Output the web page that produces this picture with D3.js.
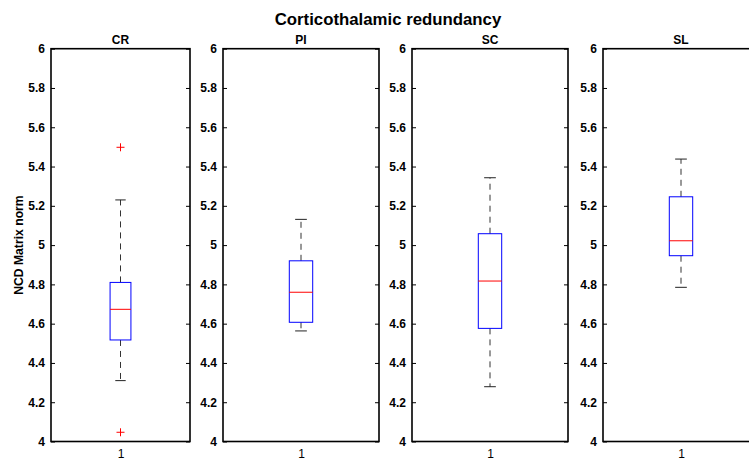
<!DOCTYPE html>
<html>
<head>
<meta charset="utf-8">
<script src="https://cdn.jsdelivr.net/npm/d3@7"></script>
<style>
  body { margin: 0; background: #fff; }
  svg { display: block; font-family: "Liberation Sans", Arial, sans-serif; }
</style>
</head>
<body>
<svg id="chart" width="749" height="463"></svg>
<script>
// ---- data ----
const groups = ["CR", "PI", "SC", "SL"];
const whiskerLow  = [4.31, 4.563, 4.279, 4.785];
const q1          = [4.517, 4.607, 4.576, 4.946];
const median      = [4.673, 4.76, 4.817, 5.022];
const q3          = [4.81, 4.92, 5.058, 5.246];
const whiskerHigh = [5.23, 5.131, 5.343, 5.438];
const outliers    = [[5.498, 4.047], [], [], []];
const yTicks = [4, 4.2, 4.4, 4.6, 4.8, 5, 5.2, 5.4, 5.6, 5.8, 6];
const xTickLabels = ["1"];
const chartTitle = "Corticothalamic redundancy";
const yLabel = "NCD Matrix norm";

// ---- layout ----
const svg = d3.select("#chart");
const panels = [
  {x0: 51, x1: 190},
  {x0: 223, x1: 379},
  {x0: 412, x1: 568},
  {x0: 603, x1: 759}
];
const plotTop = 48.7, plotBottom = 441.5;
const y = d3.scaleLinear().domain([4, 6]).range([plotBottom, plotTop]);

svg.append("text")
  .attr("x", 388).attr("y", 25)
  .attr("text-anchor", "middle")
  .attr("font-size", 16.8).attr("font-weight", "bold")
  .text(chartTitle);

svg.append("text")
  .attr("transform", `translate(22.5,${(plotTop + plotBottom) / 2}) rotate(-90)`)
  .attr("text-anchor", "middle")
  .attr("font-size", 12.2).attr("font-weight", "bold")
  .text(yLabel);

groups.forEach((g, i) => {
  const p = panels[i];
  const x = d3.scaleLinear().domain([0.5, 1.5]).range([p.x0, p.x1]);
  const gp = svg.append("g");
  const w = (p.x1 - p.x0);
  const bw = w * 0.15;
  const cx = x(1);

  // axes
  const left = d3.axisLeft(y).tickValues(yTicks).tickFormat(d3.format("~g"))
    .tickSizeInner(-4).tickSizeOuter(0).tickPadding(6);
  const ga = gp.append("g").attr("transform", `translate(${p.x0},0)`).call(left);
  ga.select(".domain").remove();
  ga.selectAll("line").attr("stroke", "#000").attr("stroke-width", 1);
  ga.selectAll("text").attr("font-size", 12).attr("font-weight", "bold")
    .attr("fill", "#000").attr("font-family", "Liberation Sans, Arial, sans-serif");

  const right = d3.axisRight(y).tickValues(yTicks).tickFormat("")
    .tickSizeInner(-4).tickSizeOuter(0);
  const gr = gp.append("g").attr("transform", `translate(${p.x1},0)`).call(right);
  gr.select(".domain").remove();
  gr.selectAll("line").attr("stroke", "#000");

  const bottomAx = d3.axisBottom(x).tickValues([1]).tickFormat((d, k) => xTickLabels[k])
    .tickSize(0).tickPadding(8);
  const gb = gp.append("g").attr("transform", `translate(0,${plotBottom})`).call(bottomAx);
  gb.select(".domain").remove();
  gb.selectAll("text").attr("font-size", 12).attr("fill", "#000")
    .attr("font-family", "Liberation Sans, Arial, sans-serif");

  // frame
  gp.append("rect")
    .attr("x", p.x0).attr("y", plotTop)
    .attr("width", p.x1 - p.x0).attr("height", plotBottom - plotTop)
    .attr("fill", "none").attr("stroke", "#000").attr("stroke-width", 1.6);

  // subplot title
  gp.append("text")
    .attr("x", cx).attr("y", plotTop - 5)
    .attr("text-anchor", "middle")
    .attr("font-size", 12).attr("font-weight", "bold")
    .text(g);

  // whiskers
  const dash = "6,5";
  gp.append("line").attr("x1", cx).attr("x2", cx)
    .attr("y1", y(q3[i])).attr("y2", y(whiskerHigh[i]))
    .attr("stroke", "#333").attr("stroke-dasharray", dash).attr("stroke-width", 1);
  gp.append("line").attr("x1", cx).attr("x2", cx)
    .attr("y1", y(q1[i])).attr("y2", y(whiskerLow[i]))
    .attr("stroke", "#333").attr("stroke-dasharray", dash).attr("stroke-width", 1);
  [whiskerHigh[i], whiskerLow[i]].forEach(v => {
    gp.append("line").attr("x1", cx - bw / 4).attr("x2", cx + bw / 4)
      .attr("y1", y(v)).attr("y2", y(v))
      .attr("stroke", "#222").attr("stroke-width", 1);
  });

  // box
  gp.append("rect")
    .attr("x", cx - bw / 2).attr("y", y(q3[i]))
    .attr("width", bw).attr("height", y(q1[i]) - y(q3[i]))
    .attr("fill", "none").attr("stroke", "#0000ff").attr("stroke-width", 1);
  gp.append("line")
    .attr("x1", cx - bw / 2).attr("x2", cx + bw / 2)
    .attr("y1", y(median[i])).attr("y2", y(median[i]))
    .attr("stroke", "#ff0000").attr("stroke-width", 1);

  // outliers
  outliers[i].forEach(v => {
    const oy = y(v);
    gp.append("line").attr("x1", cx - 4).attr("x2", cx + 4).attr("y1", oy).attr("y2", oy)
      .attr("stroke", "#ff0000");
    gp.append("line").attr("x1", cx).attr("x2", cx).attr("y1", oy - 4).attr("y2", oy + 4)
      .attr("stroke", "#ff0000");
  });
});
</script>
</body>
</html>
